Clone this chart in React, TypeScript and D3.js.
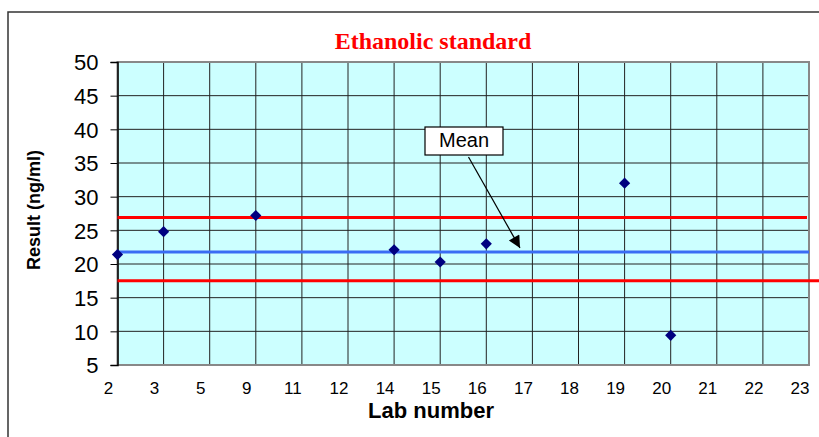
import React, { useEffect, useRef } from 'react';
import * as d3 from 'd3';

// lab numbers shown on the x axis (one per gridline)
const labs = ['2', '3', '5', '9', '11', '12', '14', '15', '16', '17', '18', '19', '20', '21', '22', '23'];

// labs that reported a result
const resultLabs = ['2', '3', '9', '14', '15', '16', '19', '20'];
const results = [21.4, 24.8, 27.2, 22.1, 20.3, 23.0, 32.0, 9.4];

const yTicks = [5, 10, 15, 20, 25, 30, 35, 40, 45, 50];

const meanValue = 21.8;
const upperLimit = 26.9;
const lowerLimit = 17.5;

const App = () => {
  const svgRef = useRef<SVGSVGElement | null>(null);

  useEffect(() => {
    const svg = d3.select(svgRef.current);
    svg.selectAll('*').remove();
    const width = 819;
    const height = 437;
    const left = 117.5;
    const right = 809;
    const top = 62;
    const bottom = 365;

    const x = d3.scalePoint<string>().domain(labs).range([left, right]);
    const y = d3.scaleLinear().domain([5, 50]).range([bottom, top]);

    svg.attr('width', width).attr('height', height);

    // outer chart frame
    svg.append('rect')
      .attr('x', 8).attr('y', 12)
      .attr('width', width).attr('height', height)
      .attr('fill', 'white')
      .attr('stroke', '#333')
      .attr('stroke-width', 1.5);

    // plot background
    svg.append('rect')
      .attr('x', left).attr('y', top)
      .attr('width', right - left).attr('height', bottom - top)
      .attr('fill', '#ccffff');

    // grid
    svg.append('g')
      .selectAll('line')
      .data(yTicks)
      .join('line')
      .attr('x1', left).attr('x2', right)
      .attr('y1', d => y(d)).attr('y2', d => y(d))
      .attr('stroke', '#222').attr('stroke-width', 1);

    svg.append('g')
      .selectAll('line')
      .data(labs)
      .join('line')
      .attr('x1', d => x(d)!).attr('x2', d => x(d)!)
      .attr('y1', top).attr('y2', bottom)
      .attr('stroke', '#222').attr('stroke-width', 1);

    // plot border
    svg.append('rect')
      .attr('x', left).attr('y', top)
      .attr('width', right - left).attr('height', bottom - top)
      .attr('fill', 'none')
      .attr('stroke', '#888')
      .attr('stroke-width', 2);

    // y axis
    const yAxis = svg.append('g')
      .attr('transform', `translate(${left},0)`)
      .call(d3.axisLeft(y).tickValues(yTicks).tickSize(7).tickPadding(12).tickFormat(d3.format('d')));
    yAxis.select('.domain').attr('stroke', '#000').attr('stroke-width', 1.5);
    yAxis.selectAll('.tick line').attr('stroke', '#000');
    yAxis.selectAll('.tick text')
      .attr('font-family', 'Liberation Sans, Arial, sans-serif')
      .attr('font-size', 22)
      .attr('fill', '#000')
      .attr('dy', '0.36em');

    // x tick labels (slightly left of gridlines, as in the original)
    svg.append('g')
      .selectAll('text')
      .data(labs)
      .join('text')
      .attr('x', d => x(d)! - 9)
      .attr('y', 394)
      .attr('text-anchor', 'middle')
      .attr('font-family', 'Liberation Sans, Arial, sans-serif')
      .attr('font-size', 17)
      .text(d => d);

    // limit and mean lines
    svg.append('line')
      .attr('x1', left).attr('x2', right - 2)
      .attr('y1', y(upperLimit)).attr('y2', y(upperLimit))
      .attr('stroke', '#ff0000').attr('stroke-width', 3);
    svg.append('line')
      .attr('x1', left).attr('x2', width)
      .attr('y1', y(lowerLimit)).attr('y2', y(lowerLimit))
      .attr('stroke', '#ff0000').attr('stroke-width', 3);
    svg.append('line')
      .attr('x1', left).attr('x2', right)
      .attr('y1', y(meanValue)).attr('y2', y(meanValue))
      .attr('stroke', '#3a6cf4').attr('stroke-width', 3);

    // data points
    const diamond = d3.symbol().type(d3.symbolDiamond2).size(80);
    svg.append('g')
      .selectAll('path')
      .data(results)
      .join('path')
      .attr('transform', (d, i) => `translate(${x(resultLabs[i])},${y(d)})`)
      .attr('d', diamond)
      .attr('fill', '#000080');

    // mean callout
    const defs = svg.append('defs');
    defs.append('marker')
      .attr('id', 'arrow')
      .attr('viewBox', '0 0 10 10')
      .attr('refX', 10).attr('refY', 5)
      .attr('markerWidth', 14).attr('markerHeight', 12)
      .attr('markerUnits', 'userSpaceOnUse')
      .attr('orient', 'auto')
      .append('path')
      .attr('d', 'M0,0L10,5L0,10Z')
      .attr('fill', '#000');

    svg.append('line')
      .attr('x1', 468.5).attr('y1', 157)
      .attr('x2', 520).attr('y2', y(meanValue) - 4)
      .attr('stroke', '#000').attr('stroke-width', 1.2)
      .attr('marker-end', 'url(#arrow)');

    svg.append('rect')
      .attr('x', 425).attr('y', 127)
      .attr('width', 78).attr('height', 28)
      .attr('fill', 'white')
      .attr('stroke', '#000').attr('stroke-width', 1.2);
    svg.append('text')
      .attr('x', 464).attr('y', 147)
      .attr('text-anchor', 'middle')
      .attr('font-family', 'Liberation Sans, Arial, sans-serif')
      .attr('font-size', 20)
      .text('Mean');

    // titles
    svg.append('text')
      .attr('x', 433).attr('y', 49)
      .attr('text-anchor', 'middle')
      .attr('font-family', 'Liberation Serif, Times New Roman, serif')
      .attr('font-weight', 'bold')
      .attr('font-size', 24)
      .attr('fill', '#ff0000')
      .text('Ethanolic standard');

    svg.append('text')
      .attr('x', 431).attr('y', 418)
      .attr('text-anchor', 'middle')
      .attr('font-family', 'Liberation Sans, Arial, sans-serif')
      .attr('font-weight', 'bold')
      .attr('font-size', 22)
      .text('Lab number');

    svg.append('text')
      .attr('transform', 'translate(40,210) rotate(-90)')
      .attr('text-anchor', 'middle')
      .attr('font-family', 'Liberation Sans, Arial, sans-serif')
      .attr('font-weight', 'bold')
      .attr('font-size', 18)
      .text('Result (ng/ml)');
  }, []);

  return (
    <div style={{ position: 'absolute', left: 0, top: 0 }}>
      <svg ref={svgRef}></svg>
    </div>
  );
};

export default App;
